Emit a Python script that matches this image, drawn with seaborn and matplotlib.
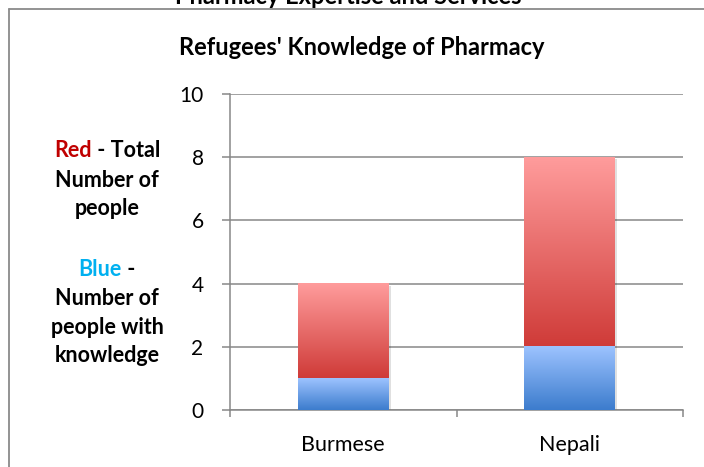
import numpy as np
import pandas as pd
import matplotlib
matplotlib.use("Agg")
import matplotlib.pyplot as plt
import matplotlib.patheffects as pe
from matplotlib.lines import Line2D
import seaborn as sns

# ---- data ----
languages = ["Burmese", "Nepali"]
total_people = [4, 8]
with_knowledge = [1, 2]
y_ticks = [0, 2, 4, 6, 8, 10]

# ---- style ----
sns.set_theme(style="white")
plt.rcParams["font.family"] = ["Lato", "DejaVu Sans"]

W, H = 704, 467
fig = plt.figure(figsize=(W / 100, H / 100), dpi=100)
ax = fig.add_axes([230 / W, 57 / H, (683 - 230) / W, (410 - 94) / H])

df = pd.DataFrame({"language": languages, "total": total_people, "know": with_knowledge})

shadow = [pe.SimplePatchShadow(offset=(1.5, -1.5), shadow_rgbFace="#000000", alpha=0.12), pe.Normal()]

sns.barplot(data=df, x="language", y="total", color="#D04040", width=0.4, ax=ax,
            saturation=1, errorbar=None)
n_red = len(ax.patches)
sns.barplot(data=df, x="language", y="know", color="#3F7FCF", width=0.4, ax=ax,
            saturation=1, errorbar=None)

red_top, red_bot = np.array(matplotlib.colors.to_rgb("#FF9C9C")), np.array(matplotlib.colors.to_rgb("#CF3B38"))
blue_top, blue_bot = np.array(matplotlib.colors.to_rgb("#9DC3FF")), np.array(matplotlib.colors.to_rgb("#3C7CCD"))

def grad(top, bot, n=256):
    t = np.linspace(0, 1, n)[:, None]
    return (top[None, :] * (1 - t) + bot[None, :] * t)[:, None, :]

for i, p in enumerate(ax.patches):
    x0, w = p.get_x(), p.get_width()
    y0, h = p.get_y(), p.get_height()
    if i < n_red:
        vis0 = with_knowledge[i]
        img = grad(red_top, red_bot)
        ext = (x0, x0 + w, vis0, y0 + h)
    else:
        img = grad(blue_top, blue_bot)
        ext = (x0, x0 + w, y0, y0 + h)
    p.set_facecolor("none")
    p.set_edgecolor("none")
    if i < n_red:
        sh = matplotlib.patches.Rectangle((x0, y0), w, h, facecolor="white", edgecolor="none",
                                          zorder=2, path_effects=shadow)
        ax.add_patch(sh)
    ax.imshow(img, extent=ext, aspect="auto", origin="upper", zorder=3, interpolation="bilinear")

ax.set_xlim(-0.5, 1.5)
ax.set_ylim(0, 10)
ax.set_xlabel("")
ax.set_ylabel("")

grey = "#878787"
ax.set_yticks(y_ticks)
ax.set_yticklabels([str(v) for v in y_ticks])
ax.yaxis.grid(True, color=grey, linewidth=1.1)
ax.set_axisbelow(True)
ax.tick_params(axis="y", length=6, width=1.1, color=grey, direction="out", pad=13,
               labelsize=15, labelcolor="black", left=True)
ax.set_xticks([0, 1])
ax.set_xticklabels(languages)
ax.set_xticks([-0.5, 0.5, 1.5], minor=True)
ax.tick_params(axis="x", which="major", length=0, pad=18, labelsize=15.5, labelcolor="black")
ax.tick_params(axis="x", which="minor", length=5, width=1.1, color=grey, direction="out", bottom=True)
for s in ["top", "right"]:
    ax.spines[s].set_visible(False)
for s in ["left", "bottom"]:
    ax.spines[s].set_color(grey)
    ax.spines[s].set_linewidth(1.1)

# chart border (partially outside image)
bx, by = 9 / W, 1 - 9 / H
fig.add_artist(Line2D([bx, bx], [0, by], transform=fig.transFigure, color="#8a8a8a", lw=1.3))
fig.add_artist(Line2D([bx, 1], [by, by], transform=fig.transFigure, color="#8a8a8a", lw=1.3))

# titles
fig.text(348 / W, 1 - 4 / H, "Pharmacy Expertise and Services", ha="center", va="baseline",
         fontsize=17, fontweight="bold", color="black")
fig.text(362 / W, 1 - 55 / H, "Refugees' Knowledge of Pharmacy", ha="center", va="baseline",
         fontsize=17, fontweight="bold", color="black")

# left annotation
cx = 107 / W
fs = 15.5

def colored_line(y_px, parts):
    renderer = fig.canvas.get_renderer()
    full_s = "".join(s for s, _ in parts)
    tmp = fig.text(0, 0, full_s, fontsize=fs, fontweight="bold")
    total_w = tmp.get_window_extent(renderer).width
    tmp.remove()
    x_start = cx * W - total_w / 2
    prefix = ""
    for s, c in parts:
        if prefix:
            tmp = fig.text(0, 0, prefix, fontsize=fs, fontweight="bold")
            off = tmp.get_window_extent(renderer).width
            tmp.remove()
        else:
            off = 0
        fig.text((x_start + off) / W, 1 - y_px / H, s, ha="left", va="baseline",
                 fontsize=fs, fontweight="bold", color=c)
        prefix += s

colored_line(157, [("Red", "#C00000"), (" - Total", "black")])
for y_px, s in [(187, "Number of"), (215, "people"), (305, "Number of"),
                (334, "people with"), (362, "knowledge")]:
    fig.text(cx, 1 - y_px / H, s, ha="center", va="baseline", fontsize=fs,
             fontweight="bold", color="black")
colored_line(276, [("Blue", "#00B0F0"), (" -", "black")])

fig.savefig("out.png", dpi=100)
